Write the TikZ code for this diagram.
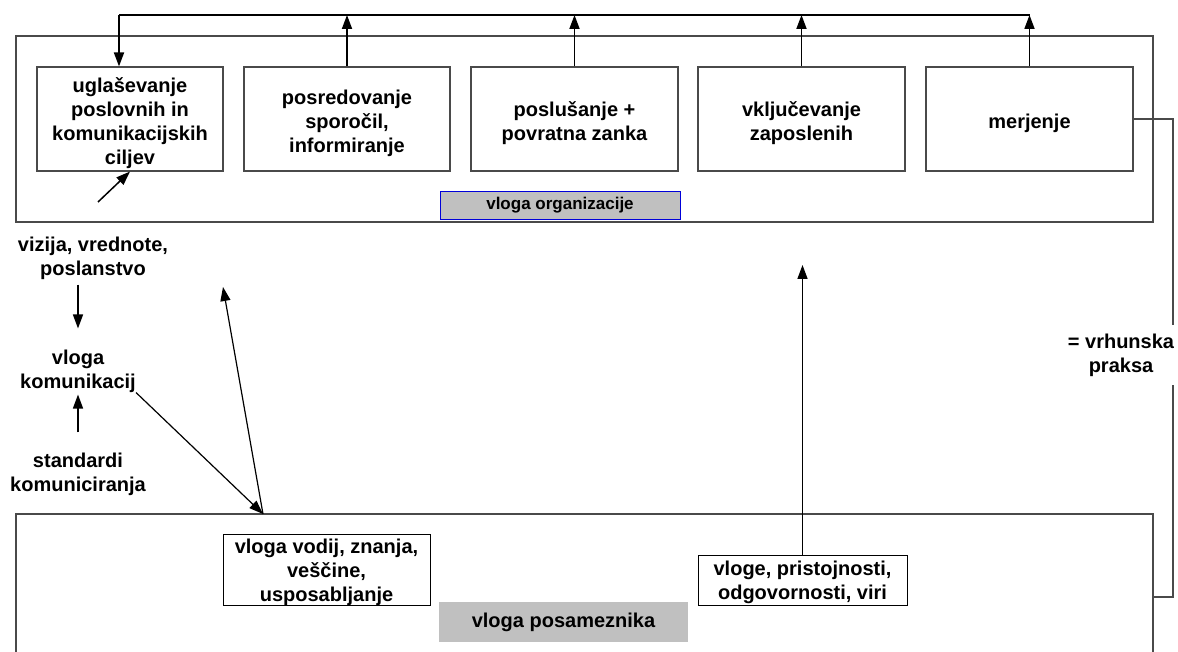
\documentclass[tikz,border=0pt]{standalone}
\usepackage{fontspec}
\setmainfont{Liberation Sans}
\usetikzlibrary{arrows.meta}
\definecolor{framegray}{HTML}{4A4A4A}
\definecolor{fillgray}{HTML}{C0C0C0}
\begin{document}
\begin{tikzpicture}[x=1pt,y=-1pt,
  txt/.style={font=\fontsize{20}{24}\selectfont\bfseries, align=center, inner sep=0pt},
  boxtxt/.style={txt, yshift=-4pt},
  framebox/.style={draw=framegray, line width=1.2pt, minimum width=1137pt, minimum height=186pt, inner sep=0pt},
  stepbox/.style={draw=framegray, line width=1.1pt, fill=white, minimum width=207pt, minimum height=104pt, inner sep=0pt},
  smallbox/.style={draw=black, line width=1pt, fill=white, inner sep=0pt},
  arr/.style={-{Triangle[length=14pt,width=10pt]}, line width=1.8pt},
  thinarr/.style={-{Triangle[length=14pt,width=10pt]}, line width=1.3pt},
  bracket/.style={draw=framegray, line width=1.2pt}
]
\useasboundingbox (0,0) rectangle (1178,652);

% the two frames: organisation (top) and individual (bottom)
\node[framebox] (orgframe) at (584.5,129) {};
\node[framebox] (indframe) at (584.5,607) {};

% process steps inside the organisation frame
\node[stepbox, minimum width=186pt] (b1) at (130,119) {};
\node[stepbox, minimum width=206pt] (b2) at (347,119) {};
\node[stepbox] (b3) at (574.5,119) {};
\node[stepbox] (b4) at (801.5,119) {};
\node[stepbox] (b5) at (1029.5,119) {};
\node[boxtxt] (b1t) at (b1) {uglaševanje\\poslovnih in\\komunikacijskih\\ciljev};
\node[boxtxt] (b2t) at (b2) {posredovanje\\sporočil,\\informiranje};
\node[boxtxt] (b3t) at (b3) {poslušanje +\\povratna zanka};
\node[boxtxt] (b4t) at (b4) {vključevanje\\zaposlenih};
\node[boxtxt] (b5t) at (b5) {merjenje};

\node[draw=blue!85!black, line width=0.8pt, fill=fillgray, minimum width=240pt, minimum height=28pt,
      inner sep=0pt, font=\fontsize{17}{20}\selectfont\bfseries] (org) at (560,205) {vloga organizacije};

% feedback loop over the steps
\coordinate (loopL) at (119,15);
\coordinate (loopR) at (1029.5,15);
\draw[line width=1.8pt] (loopL) -- (loopR);
\draw[arr] (loopL) -- (loopL |- b1.north);
\draw[arr] (b2.north) -- (b2.north |- loopL);
\draw[arr] (b3.north) -- (b3.north |- loopL);
\draw[arr] (b4.north) -- (b4.north |- loopL);
\draw[arr] (b5.north) -- (loopR);

% left column
\node[txt] (viz) at (93,258) {vizija, vrednote,\\poslanstvo};
\node[txt] (kom) at (78,371) {vloga\\komunikacij};
\node[txt] (std) at (78,474) {standardi\\komuniciranja};
\draw[thinarr, line width=1.5pt, shorten <=5pt, shorten >=21pt] (kom.north |- viz.south) -- (kom.north);
\draw[thinarr, line width=1.5pt, shorten <=20pt, shorten >=2pt] (std.north) -- (kom.south);

\coordinate (tail) at (98,202);
\draw[thinarr, line width=1.5pt] (tail) -- (b1.south);

% individual level
\node[smallbox, minimum width=207pt, minimum height=71pt] (vodij) at (326.5,569.5) {};
\node[smallbox, minimum width=209pt, minimum height=50pt] (vloge) at (802.5,580) {};
\node[txt, yshift=-2.5pt] (vodijt) at (vodij) {vloga vodij, znanja,\\veščine,\\usposabljanje};
\node[txt, yshift=-2pt] (vloget) at (vloge) {vloge, pristojnosti,\\odgovornosti, viri};
\node[fill=fillgray, minimum width=249pt, minimum height=40pt, inner sep=0pt,
      font=\fontsize{20}{24}\selectfont\bfseries] (pos) at (563.5,622) {vloga posameznika};

% links between the levels
\coordinate (meet) at (263,514);
\coordinate (upTip) at (223,287);
\coordinate (vlogeTip) at (802.5,265);
\draw[thinarr, line width=1.2pt] (kom.south east) -- (meet);
\draw[thinarr, line width=1.2pt] (meet) -- (upTip);
\draw[arr, line width=1.6pt] (vloge.north) -- (vlogeTip);

% bracket from measuring down to the individual frame
\coordinate (br) at (1173,597);
\draw[bracket] (b5.east) -| (br) -- (br -| indframe.east);
\node[txt, fill=white, inner xsep=1pt, inner ysep=9pt] (best) at (1121,355) {= vrhunska\\praksa};
\end{tikzpicture}
\end{document}
